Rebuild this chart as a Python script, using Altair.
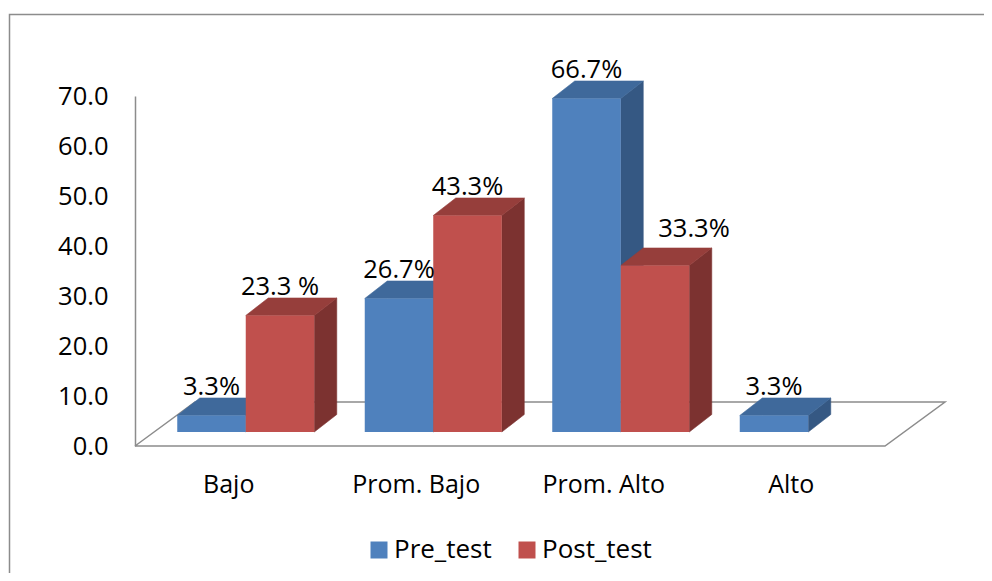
import altair as alt
import pandas as pd

# ---------------- data ----------------
categories = ["Bajo", "Prom. Bajo", "Prom. Alto", "Alto"]
series_names = ["Pre_test", "Post_test"]
pre_values = [3.3, 26.7, 66.7, 3.3]
post_values = [23.3, 43.3, 33.3, 0.0]
pre_labels = ["3.3%", "26.7%", "66.7%", "3.3%"]
post_labels = ["23.3 %", "43.3%", "33.3%", ""]
y_ticks = [0, 10, 20, 30, 40, 50, 60, 70]

# ---------------- style ----------------
FONT = "Open Sans"
FS = 25.5
GRAY = "#8c8c8c"
PX_X = 187.5          # px per category slot
PX_Y = 5.0            # px per y unit
PLOT_W = 4 * PX_X
PLOT_H = 70 * PX_Y
BAR_W = 68.5 / PX_X
FX, FY = 17 / PX_X, 14 / PX_Y          # front face shift (depth)
DX, DY = 22.5 / PX_X, 17.5 / PX_Y      # bar depth
FLX, FLY = 60 / PX_X, 44 / PX_Y        # floor depth
shades = {
    "Pre_test": {"front": "#4F81BD", "top": "#3F699B", "side": "#355883"},
    "Post_test": {"front": "#C0504D", "top": "#963E3B", "side": "#7C3230"},
}
label_nudge = {("Prom. Alto", "Post_test"): (39, -8)}  # px

# ---------------- geometry from data ----------------
fronts, faces, labels = [], [], []
bar_id = 0
for k, cat in enumerate(categories):
    for s, (name, vals, labs) in enumerate(
        [("Pre_test", pre_values, pre_labels), ("Post_test", post_values, post_labels)]
    ):
        v = vals[k]
        if v <= 0:
            continue
        xl = k + 0.5 + FX - BAR_W + s * BAR_W
        xr = xl + BAR_W
        base, top = FY, FY + v
        fronts.append({"x": xl, "x2": xr, "y": base, "y2": top, "series": name})
        col = shades[name]
        fid = f"{bar_id:02d}a"
        for px, py, py2 in [(xr, base, top), (xr + DX, base + DY, top + DY)]:
            faces.append({"face": fid, "x": px, "y": py, "y2": py2, "shade": col["side"]})
        fid = f"{bar_id:02d}b"
        for px, py, py2 in [(xl, top, top), (xl + DX, top, top + DY),
                            (xr, top, top + DY), (xr + DX, top + DY, top + DY)]:
            faces.append({"face": fid, "x": px, "y": py, "y2": py2, "shade": col["top"]})
        nx, ny = label_nudge.get((cat, name), (0, 0))
        labels.append({"x": (xl + xr) / 2 + nx / PX_X, "y": top + DY - ny / PX_Y, "text": labs[k]})
        bar_id += 1

floor = pd.DataFrame({
    "pt": [0, 1, 2, 3, 4],
    "x": [0, 4, 4 + FLX, FLX, 0],
    "y": [0, 0, FLY, FLY, 0],
})
cats = pd.DataFrame({"x": [k + 0.5 for k in range(len(categories))], "y": [0] * 4, "text": categories})

xscale = alt.Scale(domain=[0, 4], nice=False, zero=False)
yscale = alt.Scale(domain=[0, 70], nice=False)
yaxis = alt.Axis(values=y_ticks, format=".1f", title=None, grid=False, ticks=False,
                 labelFont=FONT, labelFontSize=FS, labelColor="black", labelPadding=27,
                 domainColor=GRAY, domainWidth=1.5)

border = alt.Chart(pd.DataFrame({"a": [0]})).mark_rect(
    filled=False, stroke=GRAY, strokeWidth=1.5
).encode(x=alt.value(-125.5), x2=alt.value(1000), y=alt.value(-81.5), y2=alt.value(700))

floor_layer = alt.Chart(floor).mark_line(color=GRAY, strokeWidth=1.5).encode(
    x=alt.X("x:Q", scale=xscale, axis=None),
    y=alt.Y("y:Q", scale=yscale, axis=yaxis),
    order="pt:Q",
)

face_layer = alt.Chart(pd.DataFrame(faces)).mark_area(orient="vertical", strokeWidth=0.6).encode(
    x=alt.X("x:Q", scale=xscale, axis=None),
    y=alt.Y("y:Q", scale=yscale, axis=yaxis, stack=None),
    y2="y2:Q",
    fill=alt.Fill("shade:N", scale=None),
    stroke=alt.Stroke("shade:N", scale=None),
    detail="face:N",
)

front_layer = alt.Chart(pd.DataFrame(fronts)).mark_rect().encode(
    x=alt.X("x:Q", scale=xscale, axis=None),
    x2="x2:Q",
    y=alt.Y("y:Q", scale=yscale, axis=yaxis),
    y2="y2:Q",
    color=alt.Color(
        "series:N",
        scale=alt.Scale(domain=series_names, range=[shades[n]["front"] for n in series_names]),
        legend=alt.Legend(
            title=None, orient="none", legendX=231, legendY=441, direction="horizontal",
            symbolType="square", symbolSize=289, symbolStrokeWidth=0, symbolOpacity=1,
            labelFont=FONT, labelFontSize=26, labelColor="black", labelOffset=2,
            columnPadding=22, padding=0,
        ),
    ),
)

label_layer = alt.Chart(pd.DataFrame(labels)).mark_text(
    font=FONT, fontSize=FS, color="black", baseline="alphabetic", align="center", dy=-3
).encode(
    x=alt.X("x:Q", scale=xscale, axis=None),
    y=alt.Y("y:Q", scale=yscale, axis=yaxis),
    text="text:N",
)

cat_layer = alt.Chart(cats).mark_text(
    font=FONT, fontSize=25, color="black", baseline="alphabetic", align="center", dy=47
).encode(
    x=alt.X("x:Q", scale=xscale, axis=None),
    y=alt.Y("y:Q", scale=yscale, axis=yaxis),
    text="text:N",
)

chart = alt.layer(border, floor_layer, face_layer, front_layer, label_layer, cat_layer).properties(
    width=PLOT_W, height=PLOT_H,
    padding={"left": 127, "top": 88, "right": 99, "bottom": 127},
    autosize=alt.AutoSizeParams(type="none"),
    background="white",
).configure_view(stroke=None)

chart.save("out.html", embed_options={"renderer": "svg", "actions": False})
